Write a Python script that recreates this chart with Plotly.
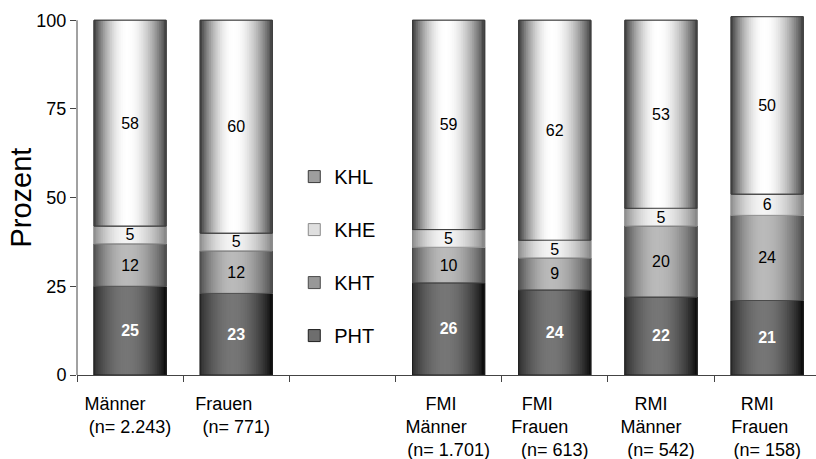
import math
import plotly.graph_objects as go

# Categories (tick labels); the blank entry is the gap that holds the legend
NB = "\u00a0"
categories = [
    "Männer" + NB * 6 + "<br>(n= 2.243)",
    "Frauen" + NB * 5 + "<br>(n= 771)",
    " ",
    "FMI" + NB * 3 + "<br>Männer" + NB * 5 + "<br>(n= 1.701)",
    "FMI" + NB * 7 + "<br>Frauen" + NB * 6 + "<br>(n= 613)",
    "RMI" + NB * 4 + "<br>Männer" + NB * 4 + "<br>(n= 542)",
    "RMI" + NB * 4 + "<br>Frauen" + NB * 3 + "<br>(n= 158)",
]

# Percentages per group (None = empty slot)
pht = [25, 23, None, 26, 24, 22, 21]
kht = [12, 12, None, 10, 9, 20, 24]
khe = [5, 5, None, 5, 5, 5, 6]
khl = [58, 60, None, 59, 62, 53, 50]

series_names = ["PHT", "KHT", "KHE", "KHL"]
series_values = [pht, kht, khe, khl]

# Cylinder shading: grey level at left edge, highlight, right edge, highlight position
shading = {
    "PHT": (45, 118, 8, 0.45),
    "KHT": (78, 186, 74, 0.45),
    "KHE": (140, 244, 130, 0.45),
    "KHL": (55, 255, 60, 0.46),
}
outline = {"PHT": "#1e1e1e", "KHT": "#4a4a4a", "KHE": "#8a8a8a", "KHL": "#3a3a3a"}
label_color = {"PHT": "white", "KHT": "black", "KHE": "black", "KHL": "black"}
legend_rank = {"KHL": 1, "KHE": 2, "KHT": 3, "PHT": 4}
legend_swatch_pos = {"PHT": 0.3, "KHT": 0.2, "KHE": 0.25, "KHL": 0.14}

BAR_W = 0.68
N_STRIPS = 40
FONT = "Liberation Sans, Arial, sans-serif"


def grey(level):
    v = int(round(max(0, min(255, level))))
    return f"rgb({v},{v},{v})"


def shade(name, t):
    left, peak, right, p = shading[name]
    if t <= p:
        s = math.sin(math.pi / 2 * t / p) ** 0.85
        return left + (peak - left) * s
    s = math.sin(math.pi / 2 * (1 - t) / (1 - p)) ** 0.85
    return right + (peak - right) * s


fig = go.Figure()

# stacked bases
bases = []
running = [0 if v is not None else None for v in pht]
for vals in series_values:
    bases.append(list(running))
    running = [r + v if v is not None else None for r, v in zip(running, vals)]

step = BAR_W / N_STRIPS
for name, vals, base in zip(series_names, series_values, bases):
    # full-width segment carrying the legend swatch; the shading strips cover it
    fig.add_trace(go.Bar(
        x=categories, y=vals, base=base,
        width=BAR_W, offset=-BAR_W / 2,
        marker=dict(color=grey(shade(name, legend_swatch_pos[name])),
                    line=dict(width=1, color=outline[name])),
        name=name, legendgroup=name, legendrank=legend_rank[name],
        showlegend=True, hoverinfo="skip",
    ))
    # each strip runs to the right edge of the bar; the next one is painted over it
    for i in range(N_STRIPS):
        t = (i + 0.5) / N_STRIPS
        fig.add_trace(go.Bar(
            x=categories, y=vals, base=base,
            width=BAR_W - i * step, offset=-BAR_W / 2 + i * step,
            marker=dict(color=grey(shade(name, t)), line=dict(width=0)),
            name=name, legendgroup=name, showlegend=False,
            hoverinfo="skip",
        ))
    # outline and value label for each segment
    fig.add_trace(go.Bar(
        x=categories, y=vals, base=base,
        width=BAR_W, offset=-BAR_W / 2,
        marker=dict(color="rgba(0,0,0,0)", line=dict(color=outline[name], width=1)),
        text=[str(v) if v is not None else "" for v in vals],
        texttemplate="<b>%{text}</b>" if name == "PHT" else "%{text}",
        textposition="inside", insidetextanchor="middle", textangle=0,
        constraintext="none",
        textfont=dict(family=FONT, size=16, color=label_color[name]),
        name=name, legendgroup=name, showlegend=False,
        hovertemplate=name + ": %{y}%<extra></extra>",
    ))

fig.update_layout(
    width=816, height=459,
    margin=dict(l=77, r=0, t=16, b=84),
    paper_bgcolor="white", plot_bgcolor="white",
    barmode="overlay",
    font=dict(family=FONT, color="black"),
    showlegend=True,
    legend=dict(
        x=0.294, y=0.607, xanchor="left", yanchor="top",
        traceorder="grouped", tracegroupgap=24,
        font=dict(size=20, family=FONT),
        bgcolor="rgba(0,0,0,0)",
    ),
    xaxis=dict(
        type="category", categoryorder="array", categoryarray=categories,
        range=[-0.5, 6.46],
        showline=True, linecolor="#444", linewidth=1,
        ticks="outside", ticklen=6, tickcolor="#444", tickson="boundaries",
        tickfont=dict(size=18, family=FONT),
        ticklabelstandoff=12,
        showgrid=False, zeroline=False,
    ),
    yaxis=dict(
        range=[0, 101.2],
        tickvals=[0, 25, 50, 75, 100],
        ticksuffix="\u2002",
        ticks="outside", ticklen=6, tickcolor="#444",
        tickfont=dict(size=18, family=FONT),
        showline=False, showgrid=False, zeroline=False,
    ),
    shapes=[dict(
        type="line", xref="x domain", yref="y",
        x0=0, x1=0, y0=0, y1=100,
        line=dict(color="#444", width=1),
    )],
    annotations=[dict(
        text="Prozent", textangle=-90,
        xref="paper", yref="y", x=-0.0758, y=50,
        xanchor="center", yanchor="middle", showarrow=False,
        font=dict(size=29, family=FONT),
    )],
)

fig.write_html("out.html")
